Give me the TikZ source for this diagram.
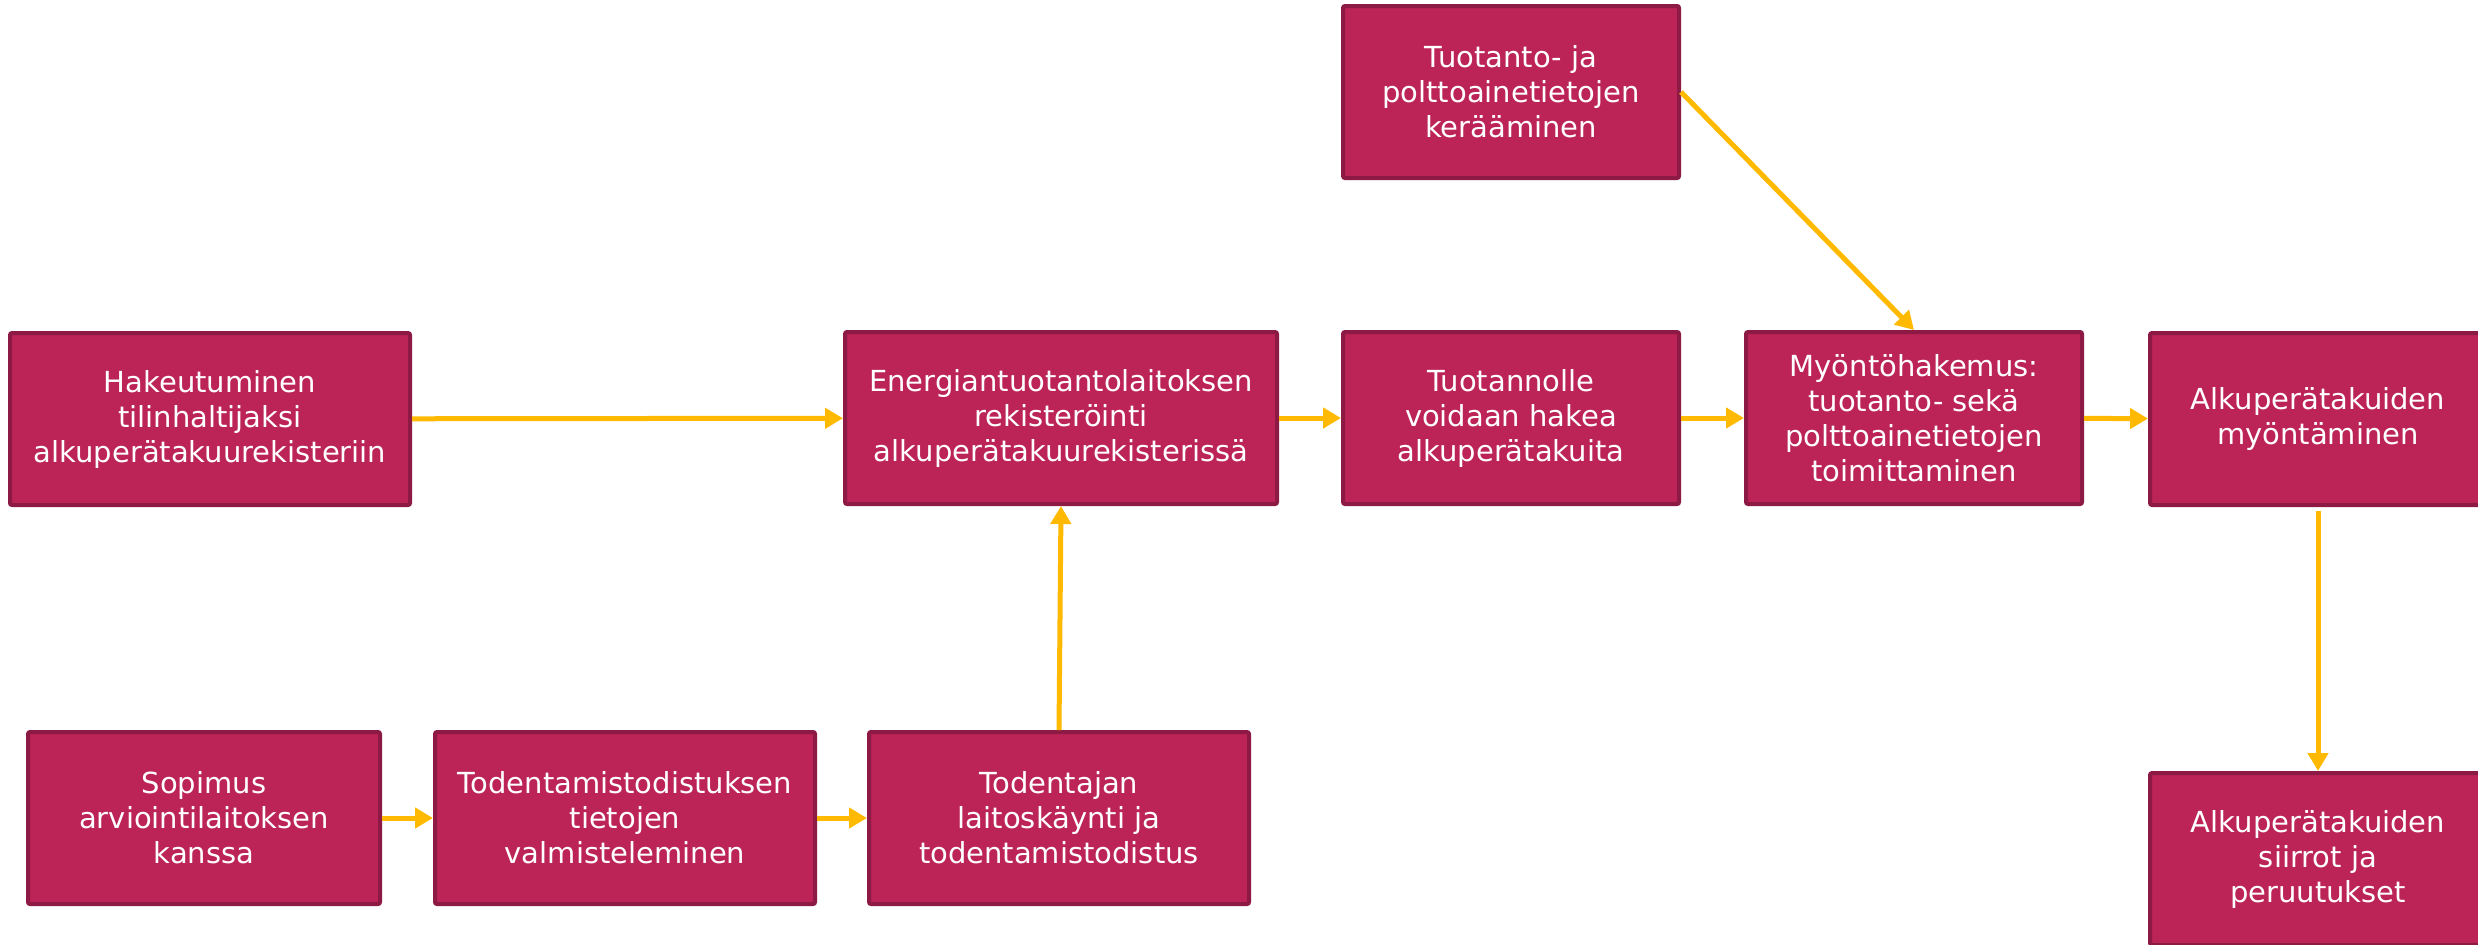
\documentclass[tikz,border=0pt]{standalone}
\usepackage{fontspec}
\setmainfont{DejaVu Sans}
\usetikzlibrary{arrows.meta}
\definecolor{boxfill}{HTML}{BC2356}
\definecolor{boxline}{HTML}{8C1A44}
\definecolor{arrowyellow}{HTML}{FFB900}
\begin{document}
\begin{tikzpicture}[x=0.5pt, y=-0.5pt,
    box/.style = {draw = boxline, fill = boxfill, line width = 2pt,
        rounded corners = 1pt, text = white, align = center, inner sep = 0pt,
        minimum height = 86pt, font = \fontsize{14.5}{17.5}\selectfont},
    arr/.style = {draw = arrowyellow, line width = 2.5pt,
        -{Triangle[length = 9pt, width = 10pt]}}]
    \useasboundingbox (0, 0) rectangle (2478, 944);

    % upper row
    \node [box, minimum width = 200pt] (haku) at (210, 419)
        {Hakeutuminen\\tilinhaltijaksi\\alkuperätakuurekisteriin};
    \node [box, minimum width = 216pt] (rekisterointi) at (1061, 418)
        {Energiantuotantolaitoksen\\rekisteröinti\\alkuperätakuurekisterissä};
    \node [box, minimum width = 168pt] (tuotannolle) at (1511, 418)
        {Tuotannolle\\voidaan hakea\\alkuperätakuita};
    \node [box, minimum width = 168pt] (tiedot) at (1511, 92)
        {Tuotanto- ja\\polttoainetietojen\\kerääminen};
    \node [box, minimum width = 168pt] (hakemus) at (1914, 418)
        {Myöntöhakemus:\\tuotanto- sekä\\polttoainetietojen\\toimittaminen};
    \node [box, minimum width = 168pt] (myonto) at (2318, 419)
        {Alkuperätakuiden\\myöntäminen};
    \node [box, minimum width = 168pt] (siirrot) at (2318, 859)
        {Alkuperätakuiden\\siirrot ja\\peruutukset};

    % lower row
    \node [box, minimum width = 176pt] (sopimus) at (204, 818)
        {Sopimus\\arviointilaitoksen\\kanssa};
    \node [box, minimum width = 190pt] (valmistelu) at (625, 818)
        {Todentamistodistuksen\\tietojen\\valmisteleminen};
    \node [box, minimum width = 190pt] (todentaja) at (1059, 818)
        {Todentajan\\laitoskäynti ja\\todentamistodistus};

    \draw [arr] (haku) -- (rekisterointi);
    \draw [arr] (rekisterointi) -- (tuotannolle);
    \draw [arr] (tuotannolle) -- (hakemus);
    \draw [arr] (hakemus) -- (myonto);
    \draw [arr] (tiedot.east) -- (hakemus.north);
    \draw [arr] ([yshift = -2pt] myonto.south) -- (siirrot.north);
    \draw [arr] (sopimus) -- (valmistelu);
    \draw [arr] (valmistelu) -- (todentaja);
    \draw [arr] (todentaja.north) -- (rekisterointi.south);
\end{tikzpicture}
\end{document}
